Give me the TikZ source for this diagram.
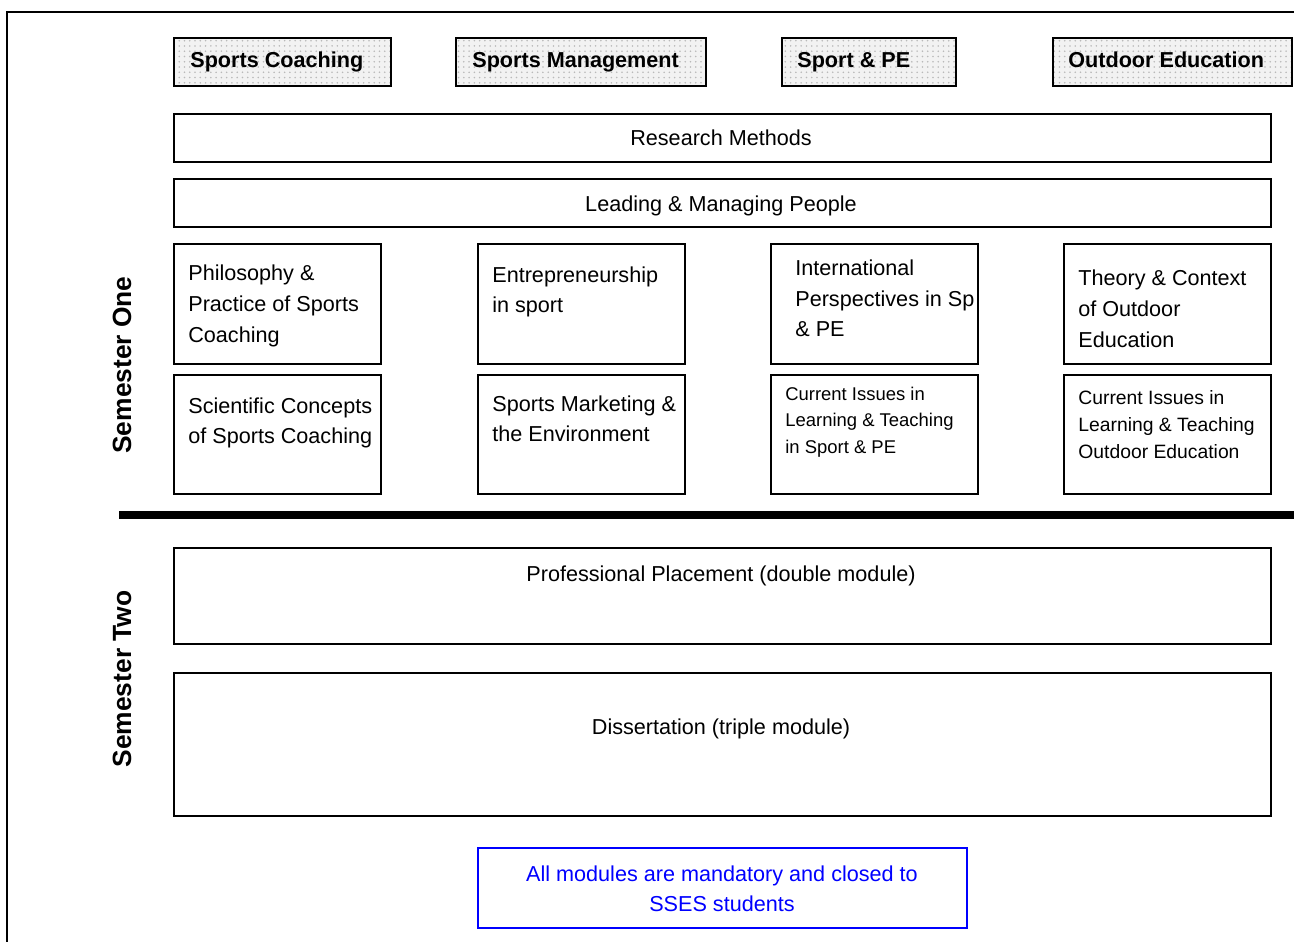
\documentclass[tikz,border=0pt]{standalone}
\usepackage{fontspec}
\setmainfont{Liberation Sans}
\usepackage{xcolor}
\usetikzlibrary{patterns}

\definecolor{noteblue}{RGB}{0,0,255}

\tikzset{
	modbox/.style={draw=black, line width=1.1pt, anchor=north west, inner sep=0pt},
	headbox/.style={modbox, preaction={fill=gray!10}, pattern=dots, pattern color=gray!55, minimum height=0.96cm},
	colbox/.style={modbox, minimum width=4.14cm, minimum height=2.4cm},
	widebox/.style={modbox, minimum width=21.94cm},
	headtext/.style={anchor=base west, inner sep=0pt, font=\bfseries\fontsize{12.3}{15}\selectfont},
	modtext/.style={anchor=base west, align=left, inner sep=0pt, font=\fontsize{12.3}{17.6}\selectfont},
	smalltext/.style={modtext, font=\fontsize{10.5}{14.8}\selectfont},
	midtext/.style={anchor=base, align=center, inner sep=0pt, font=\fontsize{12.3}{17}\selectfont},
	semtext/.style={anchor=base, rotate=90, inner sep=0pt, font=\bfseries\fontsize{15}{18}\selectfont}
}

\begin{document}
\begin{tikzpicture}[x=0.02cm, y=-0.02cm]
		\useasboundingbox (0,0) rectangle (1294,942);
		\draw[black, line width=1.1pt] (7,942) -- (7,12) -- (1294,12);

		% pathway headers
		\node[headbox, minimum width=4.34cm] (coachhead) at (173,37) {};
		\node[headtext] (coachlbl) at (190,68) {Sports Coaching};
		\node[headbox, minimum width=5cm] (manhead) at (455,37) {};
		\node[headtext] (manlbl) at (472,68) {Sports Management};
		\node[headbox, minimum width=3.48cm] (pehead) at (781,37) {};
		\node[headtext] (pelbl) at (797,68) {Sport \& PE};
		\node[headbox, minimum width=4.78cm] (outhead) at (1052,37) {};
		\node[headtext] (outlbl) at (1068,68) {Outdoor Education};

		% shared modules
		\node[widebox, minimum height=0.96cm] (research) at (173,113) {};
		\node[midtext] (researchlbl) at (721,146) {Research Methods};
		\node[widebox, minimum height=0.96cm] (leading) at (173,178) {};
		\node[midtext] (leadinglbl) at (721,212) {Leading \& Managing People};

		% semester one, first row (labels sit on their last baseline)
		\node[colbox] (philbox) at (173,243) {};
		\node[modtext] (phillbl) at (188,342) {Philosophy \&\\Practice of Sports\\Coaching};
		\node[colbox] (entbox) at (477,243) {};
		\node[modtext] (entlbl) at (492,313) {Entrepreneurship\\in sport};
		\node[colbox] (intbox) at (770,243) {};
		\node[modtext] (intlbl) at (795,337) {International\\Perspectives in Sp\\\& PE};
		\node[colbox] (theorybox) at (1063,243) {};
		\node[modtext] (theorylbl) at (1078,347) {Theory \& Context\\of Outdoor\\Education};

		% semester one, second row
		\node[colbox, minimum height=2.38cm] (scibox) at (173,374) {};
		\node[modtext, font=\fontsize{12.3}{17}\selectfont] (scilbl) at (188,443) {Scientific Concepts\\of Sports Coaching};
		\node[colbox, minimum height=2.38cm] (markbox) at (477,374) {};
		\node[modtext, font=\fontsize{12.3}{17}\selectfont] (marklbl) at (492,441) {Sports Marketing \&\\the Environment};
		\node[colbox, minimum height=2.38cm] (issuepebox) at (770,374) {};
		\node[smalltext] (issuepelbl) at (785,453) {Current Issues in\\Learning \& Teaching\\in Sport \& PE};
		\node[colbox, minimum height=2.38cm] (issueoebox) at (1063,374) {};
		\node[smalltext, font=\fontsize{11}{15.3}\selectfont] (issueoelbl) at (1078,458) {Current Issues in\\Learning \& Teaching\\Outdoor Education};

		\node[semtext] (semone) at (131,365) {Semester One};
		\draw[black, line width=4pt] (119,515) -- (1294,515);

		% semester two
		\node[widebox, minimum height=1.92cm] (placement) at (173,547) {};
		\node[midtext] (placementlbl) at (721,581) {Professional Placement (double module)};
		\node[widebox, minimum height=2.86cm] (diss) at (173,672) {};
		\node[midtext] (disslbl) at (721,734) {Dissertation (triple module)};
		\node[semtext] (semtwo) at (131,679) {Semester Two};

		\node[modbox, draw=noteblue, line width=1.4pt, minimum width=9.78cm, minimum height=1.6cm] (notebox) at (477,847) {};
		\node[midtext, text=noteblue] (notelbl) at (722,911) {All modules are mandatory and closed to\\SSES students};
		\end{tikzpicture}
\end{document}
